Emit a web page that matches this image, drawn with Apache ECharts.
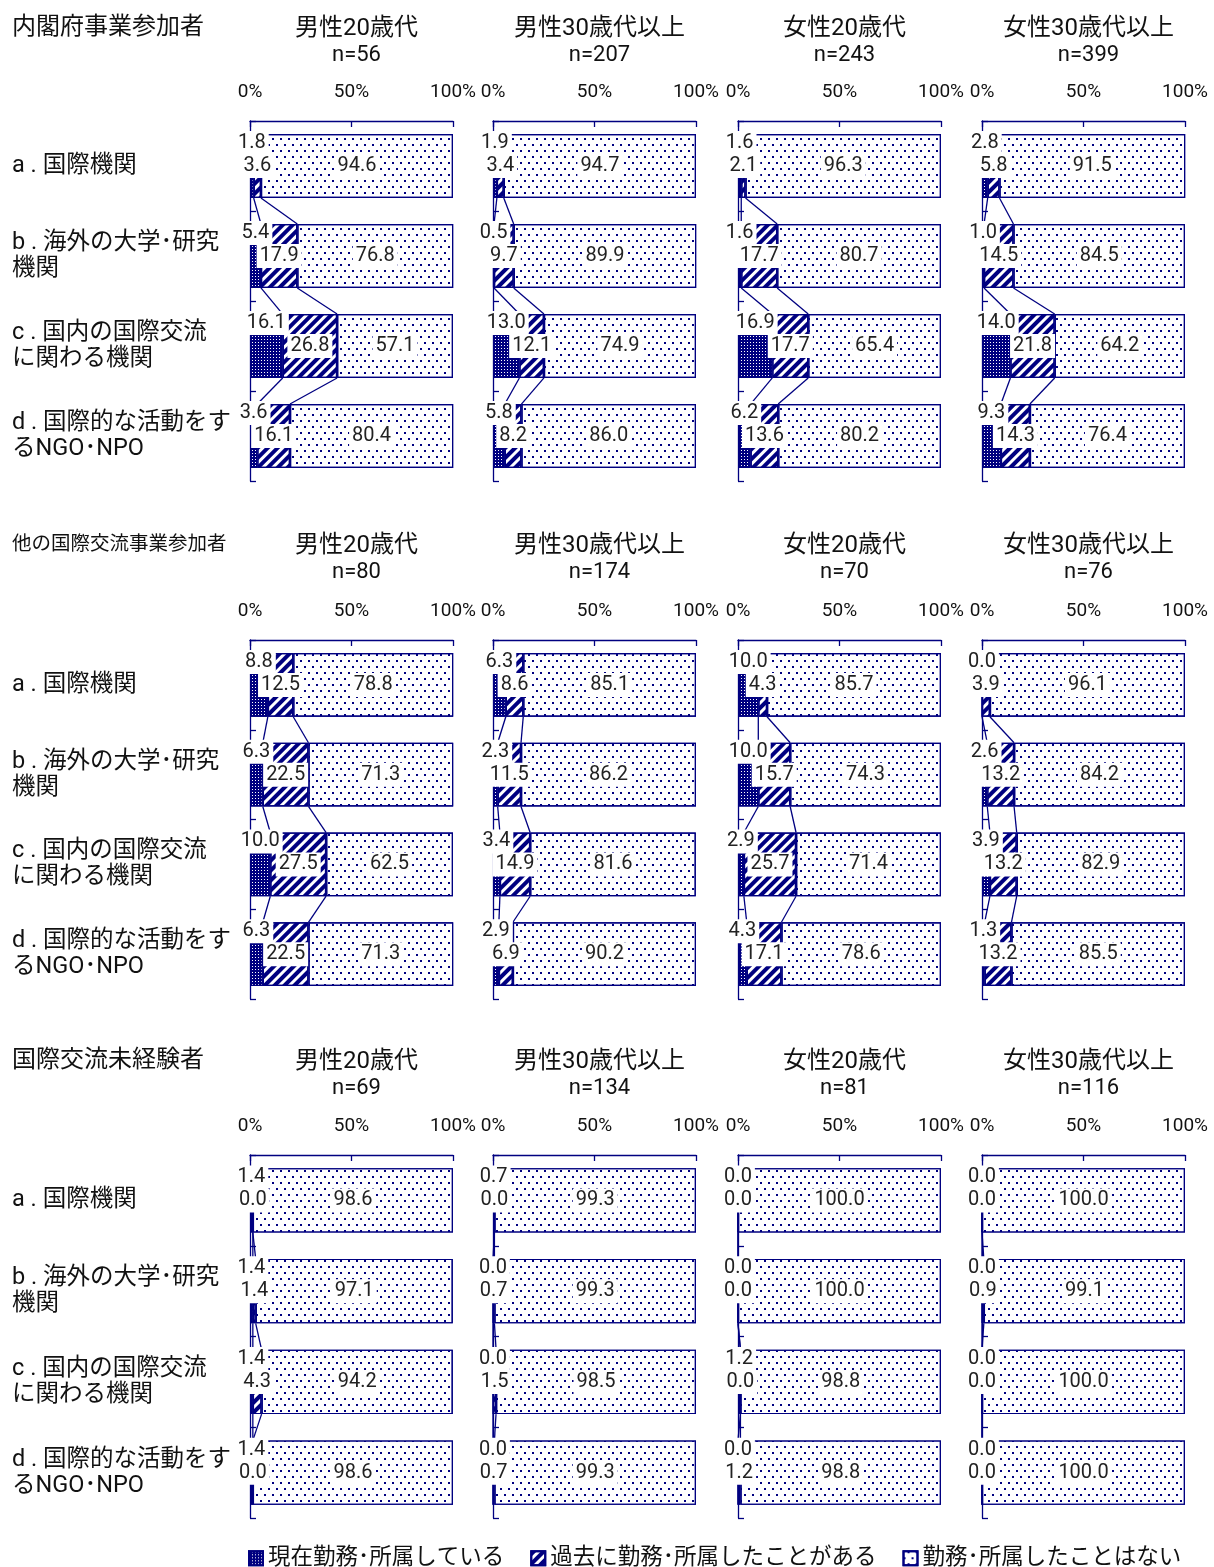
<!DOCTYPE html>
<html>
<head>
<meta charset="utf-8">
<script src="https://cdn.jsdelivr.net/npm/echarts@6/dist/echarts.min.js"></script>
<style>
html,body{margin:0;padding:0;background:#fff;}
#chart{width:1214px;height:1567px;}
</style>
</head>
<body>
<div id="chart"></div>
<script>
// ---------- data ----------
const groupNames = ['内閣府事業参加者', '他の国際交流事業参加者', '国際交流未経験者'];
const panelTitles = ['男性20歳代', '男性30歳代以上', '女性20歳代', '女性30歳代以上'];
const nValues = [[56, 207, 243, 399], [80, 174, 70, 76], [69, 134, 81, 116]];
const categories = ['a . 国際機関', 'b . 海外の大学･研究\n機関', 'c . 国内の国際交流\nに関わる機関', 'd . 国際的な活動をす\nるNGO･NPO'];
const seriesNames = ['現在勤務･所属している', '過去に勤務･所属したことがある', '勤務･所属したことはない'];
const xTicks = [0, 50, 100];

// group 1: 内閣府事業参加者 (per panel: a,b,c,d)
const current1 = [[1.8, 5.4, 16.1, 3.6], [1.9, 0.5, 13.0, 5.8], [1.6, 1.6, 16.9, 6.2], [2.8, 1.0, 14.0, 9.3]];
const past1    = [[3.6, 17.9, 26.8, 16.1], [3.4, 9.7, 12.1, 8.2], [2.1, 17.7, 17.7, 13.6], [5.8, 14.5, 21.8, 14.3]];
const never1   = [[94.6, 76.8, 57.1, 80.4], [94.7, 89.9, 74.9, 86.0], [96.3, 80.7, 65.4, 80.2], [91.5, 84.5, 64.2, 76.4]];
// group 2: 他の国際交流事業参加者
const current2 = [[8.8, 6.3, 10.0, 6.3], [6.3, 2.3, 3.4, 2.9], [10.0, 10.0, 2.9, 4.3], [0.0, 2.6, 3.9, 1.3]];
const past2    = [[12.5, 22.5, 27.5, 22.5], [8.6, 11.5, 14.9, 6.9], [4.3, 15.7, 25.7, 17.1], [3.9, 13.2, 13.2, 13.2]];
const never2   = [[78.8, 71.3, 62.5, 71.3], [85.1, 86.2, 81.6, 90.2], [85.7, 74.3, 71.4, 78.6], [96.1, 84.2, 82.9, 85.5]];
// group 3: 国際交流未経験者
const current3 = [[1.4, 1.4, 1.4, 1.4], [0.7, 0.0, 0.0, 0.0], [0.0, 0.0, 1.2, 0.0], [0.0, 0.0, 0.0, 0.0]];
const past3    = [[0.0, 1.4, 4.3, 0.0], [0.0, 0.7, 1.5, 0.7], [0.0, 0.0, 0.0, 1.2], [0.0, 0.9, 0.0, 0.0]];
const never3   = [[98.6, 97.1, 94.2, 98.6], [99.3, 99.3, 98.5, 99.3], [100.0, 100.0, 98.8, 98.8], [100.0, 99.1, 100.0, 100.0]];

const currentAll = [current1, current2, current3];
const pastAll = [past1, past2, past3];
const neverAll = [never1, never2, never3];

// ---------- layout / style ----------
const NAVY = '#000080';
const FONT = 'Roboto, "Noto Sans CJK JP", sans-serif';
const colLeft = [250, 493, 738, 982];
const gridW = 203;
const rowTop = [121, 640, 1155];
const rowH = [360, 359, 363];
const titleTop = [16, 533, 1049];
const BAR_RATIO = 0.71;

const decalCurrent = {symbol: 'rect', symbolSize: 1, color: '#ffffff', dashArrayX: [1, 2], dashArrayY: [1, 2], rotation: 0};
const decalPast = {symbol: 'rect', symbolSize: 1, color: NAVY, dashArrayX: [1, 0], dashArrayY: [3.5, 2.5], rotation: -Math.PI / 4};
const decalNever = {symbol: 'rect', symbolSize: 1, color: NAVY, dashArrayX: [[2, 6], [0, 4, 2, 2]], dashArrayY: [2, 4], rotation: 0};

const labelBase = {
  show: true, position: 'inside', color: '#222', fontSize: 20, fontFamily: FONT,
  backgroundColor: '#fff', padding: [2, 3],
  formatter: p => Number(p.value).toFixed(1)
};

const grid = [], xAxis = [], yAxis = [], series = [], title = [];

groupNames.forEach((g, r) => {
  title.push({
    text: g, left: 12, top: titleTop[r] - 1, padding: 0,
    textStyle: {fontSize: r === 1 ? 19.5 : 24, lineHeight: 26, fontWeight: 'normal', color: '#111', fontFamily: FONT}
  });
  for (let c = 0; c < 4; c++) {
    const k = r * 4 + c;
    grid.push({left: colLeft[c], top: rowTop[r], width: gridW, height: rowH[r], containLabel: false});
    title.push({
      text: '{t|' + panelTitles[c] + '}\n{n|n=' + nValues[r][c] + '}', padding: 0,
      left: colLeft[c] + gridW / 2 + 5, top: titleTop[r], textAlign: 'center',
      textStyle: {
        fontWeight: 'normal', color: '#111', fontFamily: FONT, align: 'center',
        rich: {
          t: {fontSize: 24, lineHeight: 26, color: '#111', fontFamily: FONT, align: 'center'},
          n: {fontSize: 22, lineHeight: 26, color: '#111', fontFamily: FONT, align: 'center'}
        }
      }
    });
    xAxis.push({
      type: 'value', gridIndex: k, position: 'top', min: 0, max: 100, interval: 50,
      axisLine: {show: true, lineStyle: {color: NAVY, width: 1.3}},
      axisTick: {show: true, inside: true, length: 6, lineStyle: {color: NAVY, width: 1.3}},
      splitLine: {show: false},
      axisLabel: {show: true, formatter: '{value}%', fontSize: 19, color: '#111', fontFamily: FONT, margin: 19}
    });
    yAxis.push({
      type: 'category', gridIndex: k, inverse: true, data: categories,
      axisLine: {show: true, lineStyle: {color: NAVY, width: 1.3}},
      axisTick: {show: true, inside: true, length: 6, lineStyle: {color: NAVY, width: 1.3}},
      axisLabel: {show: c === 0, align: 'left', margin: 238, fontSize: 23.5, lineHeight: 26, color: '#111', fontFamily: FONT}
    });
    const cur = currentAll[r][c], pst = pastAll[r][c], nev = neverAll[r][c];
    series.push({
      name: seriesNames[0], type: 'bar', stack: 'p' + k, xAxisIndex: k, yAxisIndex: k,
      barWidth: '71%', data: cur,
      itemStyle: {color: NAVY, borderColor: NAVY, borderWidth: 1.2, decal: decalCurrent},
      label: Object.assign({}, labelBase, {offset: [0, -23]})
    });
    series.push({
      name: seriesNames[1], type: 'bar', stack: 'p' + k, xAxisIndex: k, yAxisIndex: k,
      barWidth: '71%', data: pst,
      itemStyle: {color: '#ffffff', borderColor: NAVY, borderWidth: 1.2, decal: decalPast},
      label: Object.assign({}, labelBase)
    });
    series.push({
      name: seriesNames[2], type: 'bar', stack: 'p' + k, xAxisIndex: k, yAxisIndex: k,
      barWidth: '71%', data: nev,
      itemStyle: {color: '#ffffff', borderColor: NAVY, borderWidth: 1.2, decal: decalNever},
      label: Object.assign({}, labelBase)
    });
    // series lines between adjacent bars (built from the same data)
    const lineData = [];
    for (let i = 0; i < 3; i++) {
      lineData.push([cur[i], cur[i] + pst[i], cur[i + 1], cur[i + 1] + pst[i + 1], i]);
    }
    series.push({
      name: 'serieslines' + k, type: 'custom', xAxisIndex: k, yAxisIndex: k, z: 1,
      encode: {x: [0, 1, 2, 3], y: 4},
      data: lineData,
      renderItem: function (params, api) {
        const i = api.value(4);
        const band = api.size([0, 1])[1];
        const half = band * BAR_RATIO / 2;
        const a1 = api.coord([api.value(0), i]);
        const a2 = api.coord([api.value(1), i]);
        const b1 = api.coord([api.value(2), i + 1]);
        const b2 = api.coord([api.value(3), i + 1]);
        const st = {stroke: NAVY, lineWidth: 1.3, fill: null};
        return {
          type: 'group', children: [
            {type: 'line', shape: {x1: a1[0], y1: a1[1] + half, x2: b1[0], y2: b1[1] - half}, style: st},
            {type: 'line', shape: {x1: a2[0], y1: a2[1] + half, x2: b2[0], y2: b2[1] - half}, style: st}
          ]
        };
      }
    });
  }
});

const chart = echarts.init(document.getElementById('chart'), null, {renderer: 'canvas'});
chart.setOption({
  animation: false,
  backgroundColor: '#fff',
  textStyle: {fontFamily: FONT},
  title: title,
  grid: grid,
  xAxis: xAxis,
  yAxis: yAxis,
  legend: {
    data: seriesNames, left: 243, top: 1542, icon: 'rect', itemWidth: 14, itemHeight: 14, itemGap: 26,
    textStyle: {fontSize: 22.5, color: '#111', fontFamily: FONT}
  },
  series: series
});
</script>
</body>
</html>
